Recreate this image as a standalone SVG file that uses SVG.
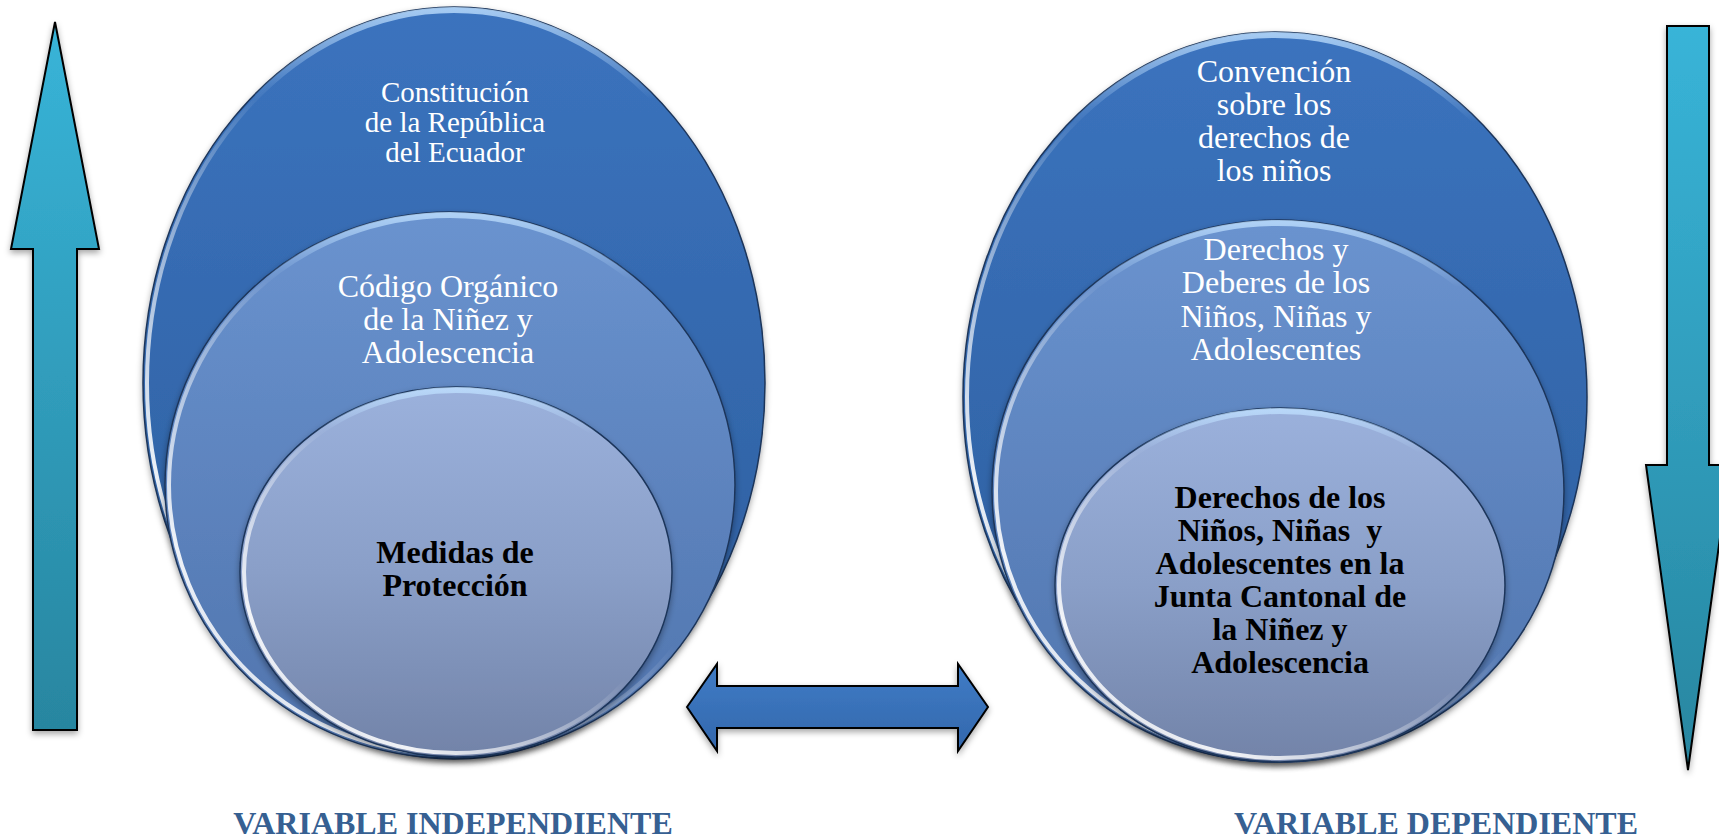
<svg xmlns="http://www.w3.org/2000/svg" width="1719" height="839" viewBox="0 0 1719 839">
<defs>
<linearGradient id="gOuter" x1="0" y1="0" x2="0" y2="1"><stop offset="0" stop-color="#3b73be"/><stop offset="1" stop-color="#2d5d9c"/></linearGradient>
<linearGradient id="gMid" x1="0" y1="0" x2="0" y2="1"><stop offset="0" stop-color="#6a93cf"/><stop offset="1" stop-color="#5074ad"/></linearGradient>
<linearGradient id="gInner" x1="0" y1="0" x2="0" y2="1"><stop offset="0" stop-color="#9bb1dc"/><stop offset="0.5" stop-color="#8a9fc8"/><stop offset="1" stop-color="#7283a8"/></linearGradient>
<linearGradient id="gRim" x1="1" y1="0" x2="0" y2="1"><stop offset="0.45" stop-color="#ffffff" stop-opacity="0"/><stop offset="0.8" stop-color="#ffffff" stop-opacity="0.9"/><stop offset="1" stop-color="#ffffff" stop-opacity="0.6"/></linearGradient>
<linearGradient id="gTopRim" x1="0" y1="0" x2="0" y2="1"><stop offset="0" stop-color="#bfe0ff" stop-opacity="0.8"/><stop offset="0.12" stop-color="#bfe0ff" stop-opacity="0"/></linearGradient>
<linearGradient id="gTeal" x1="0" y1="0" x2="0" y2="1"><stop offset="0" stop-color="#38b4d8"/><stop offset="1" stop-color="#2886a0"/></linearGradient>
<linearGradient id="gBlue" x1="0" y1="0" x2="0" y2="1"><stop offset="0" stop-color="#3f7cc6"/><stop offset="1" stop-color="#3367ac"/></linearGradient>
<filter id="sh" x="-10%" y="-10%" width="120%" height="120%"><feDropShadow dx="0" dy="3" stdDeviation="3" flood-color="#000" flood-opacity="0.35"/></filter>
</defs>
<style>
.outer{fill:url(#gOuter);stroke:#1c355a;stroke-width:1.5}
.mid{fill:url(#gMid);stroke:#1c355a;stroke-width:1.5}
.inner{fill:url(#gInner);stroke:#1c355a;stroke-width:1.5}
.rim{fill:none;stroke:url(#gRim);stroke-width:4}
.toprim{fill:none;stroke:url(#gTopRim);stroke-width:6}
.arrow{stroke:#000;stroke-width:2;stroke-linejoin:miter}
.w{font-family:"Liberation Serif","Times New Roman",serif;fill:#ffffff;text-anchor:middle;font-size:32px}
.ws{font-family:"Liberation Serif","Times New Roman",serif;fill:#ffffff;text-anchor:middle;font-size:29px}
.b{font-family:"Liberation Serif","Times New Roman",serif;fill:#000000;text-anchor:middle;font-size:32px;font-weight:bold}
.lab{font-family:"Liberation Serif","Times New Roman",serif;fill:#366092;text-anchor:middle;font-size:32px;font-weight:bold}
</style>
<g id="arrow-up"><polygon class="arrow" fill="url(#gTeal)" filter="url(#sh)" points="55,22 99,249 77,249 77,730 33,730 33,249 11,249"/></g>
<g id="arrow-down"><polygon class="arrow" fill="url(#gTeal)" filter="url(#sh)" points="1667,26 1709,26 1709,465 1730,465 1688,770 1646,465 1667,465"/></g>
<g id="left-outer">
<ellipse class="outer" filter="url(#sh)" cx="454" cy="383" rx="311" ry="376"/>
<ellipse class="rim" cx="454" cy="383" rx="307" ry="372"/>
<ellipse class="toprim" cx="454" cy="383" rx="308" ry="373"/>
<text class="ws" x="455" y="102">Constitución</text>
<text class="ws" x="455" y="132">de la República</text>
<text class="ws" x="455" y="162">del Ecuador</text>
</g>
<g id="left-middle">
<ellipse class="mid" filter="url(#sh)" cx="450" cy="485" rx="285" ry="273"/>
<ellipse class="rim" cx="450" cy="485" rx="281" ry="269"/>
<ellipse class="toprim" cx="450" cy="485" rx="282" ry="270"/>
<text class="w" x="448" y="297">Código Orgánico</text>
<text class="w" x="448" y="330">de la Niñez y</text>
<text class="w" x="448" y="363">Adolescencia</text>
</g>
<g id="left-inner">
<ellipse class="inner" filter="url(#sh)" cx="456" cy="572" rx="216" ry="185"/>
<ellipse class="rim" cx="456" cy="572" rx="212" ry="181"/>
<ellipse class="toprim" cx="456" cy="572" rx="213" ry="182"/>
<text class="b" x="455" y="563">Medidas de</text>
<text class="b" x="455" y="596">Protección</text>
</g>
<g id="right-outer">
<ellipse class="outer" filter="url(#sh)" cx="1275" cy="397" rx="312" ry="365"/>
<ellipse class="rim" cx="1275" cy="397" rx="308" ry="361"/>
<ellipse class="toprim" cx="1275" cy="397" rx="309" ry="362"/>
<text class="w" x="1274" y="82">Convención</text>
<text class="w" x="1274" y="115">sobre los</text>
<text class="w" x="1274" y="148">derechos de</text>
<text class="w" x="1274" y="181">los niños</text>
</g>
<g id="right-middle">
<ellipse class="mid" filter="url(#sh)" cx="1278" cy="491" rx="286" ry="271"/>
<ellipse class="rim" cx="1278" cy="491" rx="282" ry="267"/>
<ellipse class="toprim" cx="1278" cy="491" rx="283" ry="268"/>
<text class="w" x="1276" y="260">Derechos y</text>
<text class="w" x="1276" y="293">Deberes de los</text>
<text class="w" x="1276" y="327">Niños, Niñas y</text>
<text class="w" x="1276" y="360">Adolescentes</text>
</g>
<g id="right-inner">
<ellipse class="inner" filter="url(#sh)" cx="1280" cy="585" rx="225" ry="177"/>
<ellipse class="rim" cx="1280" cy="585" rx="221" ry="173"/>
<ellipse class="toprim" cx="1280" cy="585" rx="222" ry="174"/>
<text class="b" x="1280" y="508">Derechos de los</text>
<text class="b" x="1280" y="541">Niños, Niñas&#160; y</text>
<text class="b" x="1280" y="574">Adolescentes en la</text>
<text class="b" x="1280" y="607">Junta Cantonal de</text>
<text class="b" x="1280" y="640">la Niñez y</text>
<text class="b" x="1280" y="673">Adolescencia</text>
</g>
<g id="connectors">
<polygon class="arrow" fill="url(#gBlue)" filter="url(#sh)" points="687,707 717,664 717,686 958,686 958,664 988,707 958,751 958,728 717,728 717,751"/>
</g>
<g id="labels">
<text class="lab" x="453" y="834">VARIABLE INDEPENDIENTE</text>
<text class="lab" x="1436" y="834">VARIABLE DEPENDIENTE</text>
</g>
</svg>
